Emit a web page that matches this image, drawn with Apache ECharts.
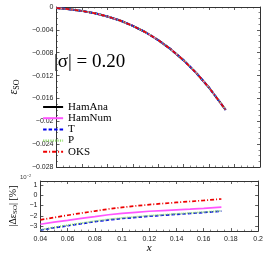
<!DOCTYPE html>
<html><head><meta charset="utf-8">
<script src="https://cdn.jsdelivr.net/npm/echarts@6/dist/echarts.min.js"></script>
<style>html,body{margin:0;padding:0;background:#fff}#c{width:266px;height:255px}</style>
</head><body><div id="c"></div>
<script>
const xs = [0.04,0.05,0.06,0.07,0.08,0.09,0.10,0.11,0.12,0.13,0.14,0.15,0.16,0.173];
const eso = [-0.00019,-0.00038,-0.00068,-0.00109,-0.00165,-0.00237,-0.00329,-0.00442,-0.00579,-0.00742,-0.00934,-0.01157,-0.01413,-0.018];
const dNum = [-2.83,-2.62,-2.45,-2.25,-2.08,-1.90,-1.77,-1.66,-1.56,-1.49,-1.42,-1.36,-1.28,-1.16];
const dT   = [-3.40,-3.17,-2.98,-2.78,-2.58,-2.41,-2.27,-2.16,-2.05,-1.95,-1.86,-1.78,-1.68,-1.55];
const dP   = [-3.38,-3.13,-2.92,-2.72,-2.52,-2.35,-2.21,-2.10,-1.99,-1.90,-1.81,-1.73,-1.64,-1.52];
const dOKS = [-2.40,-2.17,-1.95,-1.74,-1.54,-1.34,-1.18,-1.04,-0.91,-0.80,-0.70,-0.60,-0.50,-0.36];
const names = ['HamAna','HamNum','T','P','OKS'];
const yTicksBottom = [-3,-2,-1,0,1];

const pair = a => xs.map((x,i)=>[x,a[i]]);
const styles = {
  HamAna:{color:'#000000',type:'solid',width:2},
  HamNum:{color:'#ff55ff',type:'solid',width:1.5},
  T:{color:'#0000ee',type:[3.5,2],width:2},
  P:{color:'#8fdc6a',type:[1,1],width:1.8},
  OKS:{color:'#ee0000',type:[4,2,1,2],width:1.5}
};
const minus = v => String(v).replace('-', '\u2212');
const axisLine = {show:true,onZero:false,lineStyle:{color:'#333',width:1}};
const tick = {show:true,inside:true,length:3,lineStyle:{color:'#333',width:0.8}};
const mt = {show:true,splitNumber:4,length:1.5,lineStyle:{color:'#333',width:0.6}};
const lbl = {fontSize:7,color:'#222',fontFamily:'Liberation Sans'};

const series = [];
names.forEach(n=>{
  series.push({name:n,type:'line',xAxisIndex:0,yAxisIndex:0,data:pair(eso),showSymbol:false,symbol:'none',
    lineStyle:styles[n],itemStyle:{color:styles[n].color},animation:false,z:3});
});
const bottom = {HamNum:dNum,T:dT,P:dP,OKS:dOKS};
Object.keys(bottom).forEach(n=>{
  series.push({name:n+'_b',type:'line',xAxisIndex:1,yAxisIndex:1,data:pair(bottom[n]),showSymbol:false,symbol:'none',
    lineStyle:Object.assign({},styles[n],{width:1.7}),animation:false});
});

const legendData = names.map(n => n === 'P'
  ? {name:n, lineStyle:{color:'#8fdc6a', width:2.2, type:[1.2,1.2]}}
  : {name:n});

const chart = echarts.init(document.getElementById('c'),null,{renderer:'canvas'});
chart.setOption({
  animation:false,
  grid:[{left:34,right:6,top:7,height:160},{left:34,right:6,top:181,height:57}],
  xAxis:[
    {gridIndex:0,type:'value',min:0.04,max:0.2,interval:0.02,axisLine,axisTick:tick,minorTick:mt,axisLabel:{show:false},splitLine:{show:false}},
    {gridIndex:1,type:'value',min:0.04,max:0.2,interval:0.02,axisLine,axisTick:tick,minorTick:mt,axisLabel:Object.assign({margin:4},lbl),splitLine:{show:false},
      name:'x',nameLocation:'middle',nameGap:11,nameTextStyle:{fontFamily:'Liberation Serif',fontStyle:'italic',fontSize:11,color:'#000'}},
    {gridIndex:0,type:'value',position:'top',min:0.04,max:0.2,interval:0.02,axisLine,axisTick:tick,minorTick:mt,axisLabel:{show:false},splitLine:{show:false}},
    {gridIndex:1,type:'value',position:'top',min:0.04,max:0.2,interval:0.02,axisLine,axisTick:tick,minorTick:mt,axisLabel:{show:false},splitLine:{show:false}}
  ],
  yAxis:[
    {gridIndex:0,type:'value',min:-0.028,max:0,interval:0.004,axisLine,axisTick:tick,minorTick:mt,
      axisLabel:Object.assign({margin:3,formatter:minus},lbl),splitLine:{show:false},
      name:'{e|ε}{s|SO}',nameLocation:'middle',nameRotate:90,nameGap:26,
      nameTextStyle:{rich:{e:{fontFamily:'Liberation Serif',fontStyle:'italic',fontSize:12,color:'#000'},s:{fontFamily:'Liberation Serif',fontSize:8,color:'#000',padding:[6,0,0,0]}}}},
    {gridIndex:1,type:'value',min:-3.5,max:1.4,axisLine,axisTick:Object.assign({customValues:yTicksBottom},tick),
      axisLabel:Object.assign({margin:3,customValues:yTicksBottom,formatter:minus},lbl),splitLine:{show:false},
      name:'|Δε{s|SO}| [%]',nameLocation:'middle',nameRotate:90,nameGap:19,
      nameTextStyle:{fontFamily:'Liberation Serif',fontSize:10,color:'#000',rich:{s:{fontFamily:'Liberation Serif',fontSize:7,color:'#000',padding:[4,0,0,0]}}}},
    {gridIndex:0,type:'value',position:'right',min:-0.028,max:0,interval:0.004,axisLine,axisTick:tick,minorTick:mt,axisLabel:{show:false},splitLine:{show:false}},
    {gridIndex:1,type:'value',position:'right',min:-3.5,max:1.4,axisLine,axisTick:Object.assign({customValues:yTicksBottom},tick),axisLabel:{show:false},splitLine:{show:false}}
  ],
  legend:{data:legendData,orient:'vertical',left:42,top:101.5,padding:0,itemWidth:20,itemHeight:10,itemGap:0.2,
    itemStyle:{color:'rgba(0,0,0,0)',borderColor:'rgba(0,0,0,0)',borderWidth:0,opacity:0},
    textStyle:{fontFamily:'Liberation Serif',fontSize:11,color:'#000'}},
  graphic:[
    {type:'text',left:54,top:53,style:{text:'|σ| = 0.20',fontFamily:'Liberation Serif',fontSize:19,fill:'#000'}},
    {type:'text',left:20,top:174,style:{text:'10{s|−2}',fontFamily:'Liberation Sans',fontSize:6,fill:'#444',rich:{s:{fontSize:4,padding:[0,0,3,0]}}}}
  ],
  series
});
</script></body></html>
